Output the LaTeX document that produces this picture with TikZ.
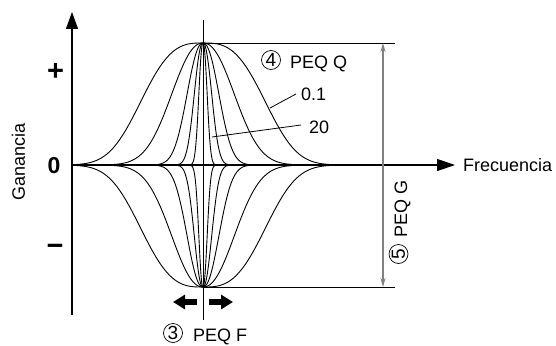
\documentclass[tikz,border=0pt]{standalone}
\usepackage{fontspec}
\setmainfont{Liberation Sans}
\usetikzlibrary{arrows.meta}
\begin{document}
\begin{tikzpicture}[x=1pt,y=-1pt,
  curve/.style={line width=0.9pt},
  axisline/.style={line width=1.2pt},
  thinline/.style={line width=0.9pt},
  lbl/.style={font=\fontsize{18}{20}\selectfont, inner sep=0pt},
  sym/.style={font=\bfseries\fontsize{29}{31}\selectfont, inner sep=0pt},
  zero/.style={font=\bfseries\fontsize{23}{25}\selectfont, inner sep=0pt},
  circnum/.style={circle, draw, line width=0.7pt, inner sep=0pt, minimum size=19pt, font=\fontsize{19}{19}\selectfont},
  dimarrow/.style={line width=1.4pt, gray, {Stealth[length=9pt,width=5pt]}-{Stealth[length=9pt,width=5pt]}},
  bigarrow/.style={line width=5.5pt, -{Triangle[length=12pt,width=14pt]}},
  leader/.style={line width=0.8pt}]
\useasboundingbox (0,0) rectangle (556,345);

% key points
\coordinate (O) at (72,165);
\coordinate (Ytop) at (72,12);
\coordinate (Ybot) at (72,315);
\coordinate (Xend) at (455,165);
\coordinate (Ctop) at (203,20);
\coordinate (Cbot) at (203,320);
\coordinate (Peak) at (203,43);
\coordinate (Trough) at (203,287);
\coordinate (TopR) at (395,43);
\coordinate (BotR) at (395,287);
\coordinate (DimT) at (383,43);
\coordinate (DimB) at (383,287);

% bell curves: width s, exponent n, domain limit m
\foreach \s/\n/\m in {71.7/3/1.83, 41.3/2.2/2.3, 21/2.2/2.3, 11.5/2.2/2.3, 5.5/2.2/2.3}{
  \draw[curve] plot[domain=-\m:\m, samples=161, smooth]
    ({203+\s*\x}, {165-122*exp(0-pow(abs(\x)+0.0001,\n))});
  \draw[curve] plot[domain=-\m:\m, samples=161, smooth]
    ({203+\s*\x}, {165+122*exp(0-pow(abs(\x)+0.0001,\n))});
}

% axes
\draw[axisline, -{Triangle[length=17pt,width=12pt]}] (Ybot) -- (Ytop);
\draw[axisline, -{Triangle[length=18pt,width=12pt]}] (O) -- (Xend);
\draw[thinline] (Ctop) -- (Cbot);
\draw[thinline] (Peak) -- (TopR);
\draw[thinline] (Trough) -- (BotR);
\draw[dimarrow] (DimT) -- (DimB);

% axis labels
\node[lbl, anchor=west] (freq) at (463,165) {Frecuencia};
\node[lbl, rotate=90] (gan) at (18.5,162) {Ganancia};
\node[sym] (plus) at (55.5,72) {+};
\node[zero] (zerol) at (54,165.5) {0};
\node[sym] (minus) at (55,250) {\char"2212};

% PEQ Q
\node[circnum] (c4) at (271,60) {4};
\node[lbl, anchor=base west] (peqq) at (290,68) {PEQ Q};
\node[lbl, anchor=base west] (q01) at (301,100) {0.1};
\node[lbl, anchor=base west] (q20) at (309,133) {20};
\coordinate (L1a) at (270,108);
\coordinate (L1b) at (296,94);
\coordinate (L2a) at (212,137);
\coordinate (L2b) at (301,125);
\draw[leader] (L1a) -- (L1b);
\draw[leader] (L2a) -- (L2b);

% PEQ G
\node[circnum] (c5) at (398.5,254) {\rotatebox{90}{5}};
\node[lbl, rotate=90, anchor=base west] (peqg) at (407,238) {PEQ G};

% PEQ F
\coordinate (AL1) at (197,302);
\coordinate (AL2) at (173,302);
\coordinate (AR1) at (209,302);
\coordinate (AR2) at (233,302);
\draw[bigarrow] (AL1) -- (AL2);
\draw[bigarrow] (AR1) -- (AR2);
\node[circnum] (c3) at (173,333) {3};
\node[lbl, anchor=base west] (peqf) at (193,341) {PEQ F};
\end{tikzpicture}
\end{document}
